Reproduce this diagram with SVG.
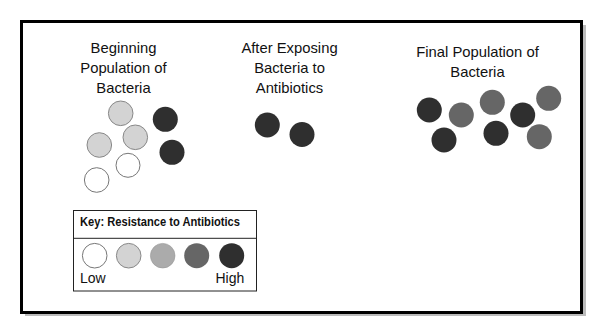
<svg xmlns="http://www.w3.org/2000/svg" width="596" height="333" viewBox="0 0 596 333">
<defs>
<style>
text{font-family:"Liberation Sans",Arial,sans-serif;fill:#111;}
.t{font-size:14.8px;text-anchor:middle;}
.k{font-size:13px;font-weight:bold;}
.s{font-size:14px;}
.c0{fill:#fff;stroke:#777;stroke-width:1;}
.c1{fill:#d3d3d3;stroke:#888;stroke-width:1;}
.c2{fill:#ababab;stroke:#999;stroke-width:0.6;}
.c3{fill:#666;}
.c4{fill:#2f2f2f;}
</style>
</defs>
<rect width="596" height="333" fill="#fff"/>
<rect x="25" y="25" width="561" height="291" fill="#bbb"/>
<rect x="21.5" y="21.5" width="560" height="291" fill="#fff" stroke="#000" stroke-width="3"/>
<g id="beginning">
<text class="t" x="123.5" y="53.3">Beginning</text>
<text class="t" x="123.5" y="73">Population of</text>
<text class="t" x="123.5" y="92.7">Bacteria</text>
<circle class="c1" cx="120.7" cy="113.3" r="12.3"/>
<circle class="c4" cx="165.3" cy="119.3" r="12.5"/>
<circle class="c1" cx="135.3" cy="137.3" r="12.3"/>
<circle class="c1" cx="99.3" cy="145" r="12.3"/>
<circle class="c4" cx="172" cy="152.3" r="12.5"/>
<circle class="c0" cx="128" cy="165.3" r="12"/>
<circle class="c0" cx="96.7" cy="180" r="12.3"/>
</g>
<g id="after">
<text class="t" x="289.5" y="53.3">After Exposing</text>
<text class="t" x="289.5" y="73">Bacteria to</text>
<text class="t" x="289.5" y="92.7">Antibiotics</text>
<circle class="c4" cx="267.3" cy="125" r="12.5"/>
<circle class="c4" cx="302" cy="134.5" r="12.5"/>
</g>
<g id="final">
<text class="t" x="477.5" y="57">Final Population of</text>
<text class="t" x="477.5" y="76.7">Bacteria</text>
<circle class="c4" cx="429.3" cy="110" r="12.5"/>
<circle class="c3" cx="461.3" cy="115" r="12.5"/>
<circle class="c3" cx="492.3" cy="102.3" r="12.5"/>
<circle class="c4" cx="444" cy="140" r="12.5"/>
<circle class="c4" cx="496" cy="133.3" r="12.5"/>
<circle class="c4" cx="522.7" cy="115" r="12.5"/>
<circle class="c3" cx="548.7" cy="98.3" r="12.5"/>
<circle class="c3" cx="539.3" cy="136.7" r="12.5"/>
</g>
<g id="key">
<rect x="73.5" y="210.5" width="183" height="80.5" fill="#fff" stroke="#222" stroke-width="1"/>
<line x1="73.5" y1="238.3" x2="256.5" y2="238.3" stroke="#222" stroke-width="1"/>
<text class="k" x="80" y="225.7" textLength="160" lengthAdjust="spacingAndGlyphs">Key: Resistance to Antibiotics</text>
<circle class="c0" cx="94.7" cy="255.7" r="12.3"/>
<circle class="c1" cx="128.7" cy="255.7" r="12.3"/>
<circle class="c2" cx="162.7" cy="255.7" r="12.3"/>
<circle class="c3" cx="196.7" cy="255.7" r="12.5"/>
<circle class="c4" cx="231.7" cy="255.7" r="12.5"/>
<text class="s" x="80" y="283.3">Low</text>
<text class="s" x="244.3" y="283.3" text-anchor="end">High</text>
</g>
<g id="connectors"/>
</svg>
